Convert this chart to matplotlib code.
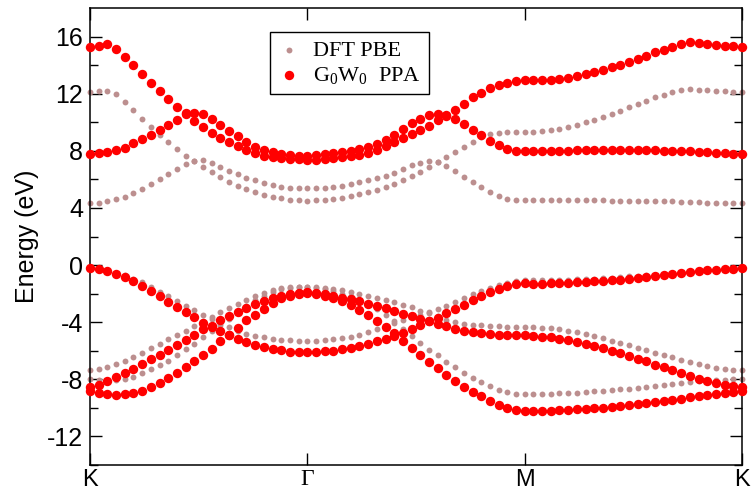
import numpy as np
import matplotlib
matplotlib.use("Agg")
import matplotlib.pyplot as plt

# ---------------- data (energies in eV, 26 k-points per segment K-G-M-K) ----------------
kpath_labels = ["K", "Γ", "M", "K"]
kpath_ticks = [0, 25, 50, 75]

# DFT PBE bands
pbe_c2 = [12.12, 12.16, 12.19, 12.0, 11.42, 10.84, 10.26, 9.70, 9.14, 8.63, 8.12, 7.67, 7.28, 7.33, 7.14, 6.86, 6.58, 6.35, 6.12, 5.93, 5.74, 5.60, 5.49, 5.42, 5.37, 5.37,
          5.37, 5.42, 5.47, 5.56, 5.65, 5.79, 5.95, 6.08, 6.25, 6.48, 6.74, 6.98, 7.18, 7.28, 7.25, 7.6, 7.95, 8.3, 8.6, 8.95, 9.16, 9.26, 9.31, 9.33, 9.33,
          9.33, 9.37, 9.44, 9.53, 9.67, 9.84, 10.0, 10.19, 10.4, 10.6, 10.81, 11.07, 11.28, 11.51, 11.74, 11.93, 12.12, 12.28, 12.35, 12.28, 12.23, 12.19, 12.16, 12.14, 12.12]
pbe_c1 = [4.33, 4.37, 4.49, 4.63, 4.79, 5.02, 5.30, 5.65, 6.0, 6.35, 6.72, 7.05, 7.26, 6.86, 6.49, 6.16, 5.84, 5.56, 5.33, 5.09, 4.91, 4.77, 4.67, 4.58, 4.53, 4.49,
          4.53, 4.58, 4.63, 4.72, 4.81, 4.95, 5.14, 5.27, 5.5, 5.66, 5.95, 6.27, 6.55, 6.9, 7.2, 6.92, 6.58, 6.2, 5.83, 5.49, 5.15, 4.82, 4.65, 4.56, 4.53,
          4.53, 4.53, 4.53, 4.53, 4.53, 4.53, 4.53, 4.53, 4.53, 4.52, 4.52, 4.51, 4.50, 4.49, 4.48, 4.47, 4.46, 4.44, 4.42, 4.40, 4.38, 4.36, 4.35, 4.34, 4.33]
pbe_v1 = [-0.2, -0.25, -0.37, -0.53, -0.72, -0.95, -1.22, -1.53, -1.86, -2.19, -2.51, -2.84, -3.16, -3.49, -3.77, -4.05, -4.37, -4.6, -4.84, -4.98, -5.07, -5.16, -5.23, -5.28, -5.30, -5.32,
          -5.30, -5.26, -5.21, -5.12, -5.02, -4.88, -4.70, -4.51, -4.28, -4.05, -3.86, -3.67, -3.49, -3.30, -3.10, -2.84, -2.60, -2.33, -2.05, -1.81, -1.58, -1.40, -1.26, -1.14, -1.08,
          -1.07, -1.06, -1.05, -1.04, -1.02, -1.0, -0.98, -0.95, -0.92, -0.88, -0.84, -0.8, -0.76, -0.72, -0.67, -0.62, -0.57, -0.52, -0.47, -0.42, -0.36, -0.31, -0.27, -0.23, -0.2]
pbe_v2 = [-7.37, -7.30, -7.12, -6.93, -6.70, -6.42, -6.14, -5.81, -5.53, -5.21, -4.93, -4.60, -4.28, -3.95, -3.63, -3.30, -3.0, -2.70, -2.42, -2.19, -1.95, -1.77, -1.63, -1.56, -1.53, -1.53,
          -1.53, -1.58, -1.67, -1.77, -1.86, -2.0, -2.14, -2.3, -2.44, -2.6, -2.77, -2.95, -3.2, -3.35, -3.6, -3.85, -4.02, -4.12, -4.18, -4.22, -4.26, -4.29, -4.32, -4.34, -4.35,
          -4.37, -4.40, -4.44, -4.51, -4.60, -4.70, -4.84, -4.98, -5.12, -5.30, -5.49, -5.63, -5.79, -5.95, -6.14, -6.33, -6.47, -6.63, -6.79, -6.93, -7.07, -7.19, -7.28, -7.33, -7.37]
pbe_v3 = [-8.0, -8.07, -8.09, -8.05, -7.95, -7.81, -7.58, -7.30, -7.02, -6.70, -6.33, -5.91, -5.53, -5.07, -4.65, -4.19, -3.77, -3.30, -2.84, -2.47, -2.14, -1.86, -1.67, -1.58, -1.53, -1.53,
          -1.58, -1.7, -1.84, -2.0, -2.2, -2.45, -2.75, -3.1, -3.5, -3.95, -4.45, -4.95, -5.45, -5.92, -6.33, -6.76, -7.15, -7.54, -7.88, -8.2, -8.5, -8.75, -8.92, -9.0, -9.02,
          -9.02, -9.0, -9.0, -8.98, -8.95, -8.93, -8.88, -8.84, -8.79, -8.74, -8.70, -8.65, -8.60, -8.53, -8.47, -8.42, -8.35, -8.28, -8.19, -8.14, -8.09, -8.05, -8.02, -8.0, -8.0]

# G0W0 PPA bands
gw_c2 = [15.30, 15.35, 15.47, 15.14, 14.58, 13.98, 13.37, 12.77, 12.19, 11.65, 11.09, 10.62, 10.65, 10.58, 10.26, 9.84, 9.42, 9.02, 8.63, 8.26, 8.07, 7.89, 7.77, 7.70, 7.65, 7.65,
         7.72, 7.77, 7.83, 7.92, 8.02, 8.16, 8.3, 8.5, 8.75, 9.14, 9.55, 9.92, 10.25, 10.5, 10.6, 10.49, 10.88, 11.3, 11.75, 12.06, 12.38, 12.58, 12.78, 12.9, 12.93,
         12.93, 12.93, 12.95, 13.02, 13.09, 13.21, 13.35, 13.51, 13.67, 13.84, 14.02, 14.21, 14.42, 14.65, 14.91, 15.09, 15.28, 15.49, 15.65, 15.58, 15.49, 15.42, 15.37, 15.33, 15.30]
gw_c1 = [7.79, 7.82, 7.89, 8.03, 8.23, 8.54, 8.84, 9.14, 9.47, 9.84, 10.16, 10.55, 10.07, 9.65, 9.28, 8.91, 8.63, 8.33, 8.07, 7.84, 7.63, 7.54, 7.49, 7.44, 7.40, 7.38,
         7.36, 7.41, 7.47, 7.55, 7.63, 7.72, 7.86, 8.05, 8.35, 8.65, 8.87, 9.2, 9.45, 9.75, 10.13, 10.45, 10.2, 9.86, 9.48, 9.08, 8.72, 8.4, 8.12, 8.0, 7.98,
         7.98, 7.99, 8.0, 8.01, 8.02, 8.03, 8.04, 8.05, 8.05, 8.05, 8.05, 8.05, 8.05, 8.04, 8.03, 8.02, 8.0, 7.98, 7.96, 7.94, 7.92, 7.88, 7.84, 7.81, 7.79]
gw_v1 = [-0.23, -0.28, -0.42, -0.60, -0.84, -1.12, -1.44, -1.81, -2.19, -2.56, -2.93, -3.30, -3.67, -4.05, -4.33, -4.60, -4.88, -5.16, -5.40, -5.58, -5.72, -5.86, -5.98, -6.07, -6.12, -6.12,
         -6.09, -6.05, -6.0, -5.91, -5.81, -5.67, -5.53, -5.35, -5.21, -4.98, -4.74, -4.47, -4.23, -3.95, -3.72, -3.35, -3.07, -2.79, -2.47, -2.19, -1.91, -1.67, -1.49, -1.35, -1.28,
         -1.30, -1.30, -1.28, -1.26, -1.23, -1.21, -1.19, -1.14, -1.09, -1.07, -1.02, -0.98, -0.93, -0.86, -0.79, -0.72, -0.65, -0.58, -0.51, -0.44, -0.37, -0.33, -0.28, -0.25, -0.23]
gw_v2 = [-8.53, -8.37, -8.14, -7.86, -7.58, -7.26, -6.93, -6.60, -6.28, -5.95, -5.63, -5.26, -4.88, -4.51, -4.28, -3.86, -3.58, -3.26, -2.98, -2.70, -2.51, -2.33, -2.14, -2.02, -1.95, -1.91,
         -1.95, -2.02, -2.14, -2.28, -2.37, -2.51, -2.70, -2.88, -3.02, -3.21, -3.40, -3.58, -3.77, -3.91, -4.1, -4.25, -4.45, -4.6, -4.7, -4.78, -4.84, -4.88, -4.9, -4.92, -4.93,
         -4.98, -5.02, -5.07, -5.16, -5.26, -5.40, -5.53, -5.67, -5.81, -6.0, -6.19, -6.37, -6.56, -6.74, -6.98, -7.16, -7.35, -7.58, -7.77, -7.95, -8.09, -8.23, -8.37, -8.47, -8.53]
gw_v3 = [-8.84, -8.93, -9.02, -9.07, -9.02, -8.93, -8.79, -8.51, -8.23, -7.91, -7.53, -7.16, -6.74, -6.28, -5.86, -5.30, -4.88, -4.42, -3.86, -3.49, -3.07, -2.65, -2.33, -2.14, -2.0, -1.95,
         -2.0, -2.14, -2.33, -2.51, -2.79, -3.16, -3.53, -3.95, -4.37, -4.74, -5.30, -5.81, -6.28, -6.79, -7.21, -7.67, -8.14, -8.51, -8.88, -9.2, -9.5, -9.81, -10.02, -10.15, -10.2,
         -10.23, -10.21, -10.19, -10.16, -10.14, -10.09, -10.07, -10.02, -9.98, -9.91, -9.86, -9.79, -9.72, -9.65, -9.58, -9.51, -9.44, -9.35, -9.26, -9.19, -9.09, -9.0, -8.93, -8.88, -8.84]

series_labels = ["DFT PBE", r"$\mathrm{G_0W_0}$  PPA"]
series_colors = ["#bc8f8f", "#ff0000"]

# ---------------- plot ----------------
plt.rcParams["font.family"] = ["Liberation Sans", "DejaVu Sans"]
plt.rcParams["mathtext.fontset"] = "custom"
plt.rcParams["mathtext.rm"] = "Liberation Serif"
plt.rcParams["mathtext.it"] = "Liberation Serif:italic"

W, H = 752, 493
fig = plt.figure(figsize=(W / 100, H / 100), dpi=100)
ax = fig.add_axes([90 / W, 1 - 465 / H, (742 - 90) / W, (465 - 8) / H])

k = np.arange(len(gw_c1))
pbe = [pbe_c2, pbe_c1, pbe_v1, pbe_v2, pbe_v3]
gw = [gw_c2, gw_c1, gw_v1, gw_v2, gw_v3]

h1 = None
for b in pbe:
    h1 = ax.scatter(k, b, s=18, color=series_colors[0], linewidths=0, clip_on=False, zorder=2)
h2 = None
for b in gw:
    h2 = ax.scatter(k, b, s=46, color=series_colors[1], linewidths=0, clip_on=False, zorder=3)

ax.set_xlim(0, 75)
ax.set_ylim(-14, 18)
ax.set_yticks(np.arange(-12, 17, 4))
ax.set_yticks(np.arange(-14, 18, 2), minor=True)
ax.set_yticklabels([f"{v:d}" for v in range(-12, 17, 4)])
ax.set_xticks(kpath_ticks)
ax.set_xticklabels(kpath_labels)
for lbl in ax.get_xticklabels():
    if lbl.get_text() == "Γ":
        lbl.set_family(["Liberation Serif", "DejaVu Serif"])

ax.tick_params(which="both", direction="in", top=True, right=True, width=1.0)
ax.tick_params(which="major", length=8.5)
ax.tick_params(which="minor", length=6)
ax.tick_params(axis="y", pad=5, labelsize=18)
ax.tick_params(axis="x", pad=3, labelsize=17)
for sp in ax.spines.values():
    sp.set_linewidth(1.1)

ax.set_ylabel("Energy (eV)", fontsize=18, labelpad=6)

leg = ax.legend([h1, h2], series_labels, loc="upper left", bbox_to_anchor=(0.276, 0.947),
                borderaxespad=0, frameon=True, fancybox=False, edgecolor="black", framealpha=1,
                prop={"family": "Liberation Serif", "size": 16}, handlelength=1.0, handletextpad=0.6,
                labelspacing=0.2, borderpad=0.35, scatterpoints=1)
leg.get_frame().set_linewidth(1.0)

fig.savefig("out.png", dpi=100)
